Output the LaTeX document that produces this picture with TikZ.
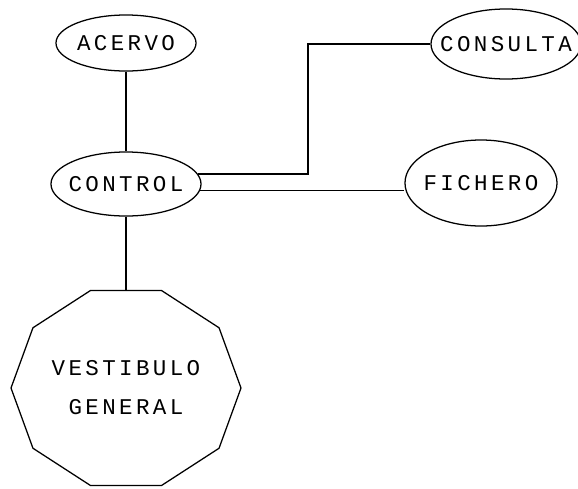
\documentclass[tikz,border=0pt]{standalone}
\usepackage{fontspec}
\usepackage{tikz}
\usetikzlibrary{calc, shapes.geometric}
\newfontfamily\plotfont[LetterSpace=15]{Liberation Mono}

\begin{document}
\begin{tikzpicture}[x=0.025cm, y=-0.025cm, line width=0.9pt,
    khu/.style={draw, ellipse, inner sep=0pt, font=\plotfont\fontsize{16}{27.7}\selectfont},
    chu/.style={align=center, font=\plotfont\fontsize{16}{27.7}\selectfont}]
    \useasboundingbox (0,0) rectangle (578,488);

    % 1. Các khu hình elip
    \node[khu, minimum width=3.5cm, minimum height=1.4cm] (acervo) at (126,43) {\makebox[0pt]{ACERVO}};
    \node[khu, minimum width=3.75cm, minimum height=1.6cm] (control) at (126,184) {\makebox[0pt]{CONTROL}};
    \node[khu, minimum width=3.75cm, minimum height=1.75cm] (consulta) at (506,44) {\makebox[0pt]{CONSULTA}};
    \node[khu, minimum width=3.8cm, minimum height=2.15cm] (fichero) at (481,183) {\makebox[0pt]{FICHERO}};

    % 2. Sảnh chính: hình thập giác
    \draw plot[samples at={0,36,...,324}] ({126+115*cos(\x)}, {388+102.5*sin(\x)}) -- cycle;
    \node[chu] (vestibulo) at (126,388) {VESTIBULO\\GENERAL};
    \coordinate (dinh) at (126,290.5);

    % 3. Các đường nối
    \draw (acervo) -- (control);
    \draw (control) -- (dinh);
    \coordinate (re) at (308,44);
    \draw (control.8) -| (re) -- (consulta);
    \draw (control.-5) -- (control.-5 -| fichero.west);
\end{tikzpicture}
\end{document}
